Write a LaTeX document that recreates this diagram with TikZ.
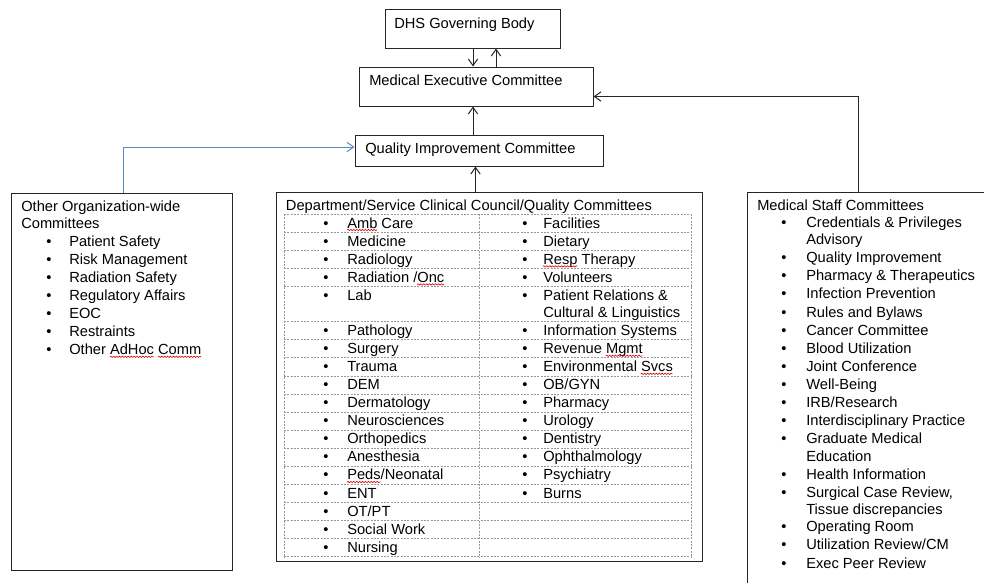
\documentclass[tikz,border=0pt]{standalone}
\usepackage{fontspec}
\setmainfont{Liberation Sans}
\usetikzlibrary{arrows.meta,fit,decorations.pathmorphing}
\definecolor{connblue}{RGB}{91,139,198}
\begin{document}
\begin{tikzpicture}[x=0.75pt,y=-0.75pt,
  font=\fontsize{11}{13}\selectfont,
  box/.style={draw=black!85, line width=0.75pt, inner sep=0pt, fit=#1},
  txt/.style={anchor=base west, inner sep=0pt},
  bul/.style={anchor=base, inner sep=0pt},
  arr/.style={draw=black!85, line width=0.75pt, -{Straight Barb[length=5pt,width=7pt]}},
  bluearr/.style={draw=connblue, line width=0.75pt, -{Straight Barb[length=5pt,width=7pt]}},
  tabline/.style={draw=black!40, line width=0.5pt, dash pattern=on 1.5pt off 1pt},
  squig/.style={draw=red!85!black, line width=0.45pt, decorate, decoration={snake, amplitude=0.5pt, segment length=2.2pt}}]
\clip (0,0) rectangle (984,582);
\fill[white] (0,0) rectangle (984,582);

% box corners
\coordinate (dhsA) at (385,9);   \coordinate (dhsB) at (560,48);
\coordinate (mecA) at (359,67);  \coordinate (mecB) at (593,106);
\coordinate (qicA) at (355,135); \coordinate (qicB) at (603,166);
\coordinate (othA) at (11,193);  \coordinate (othB) at (232,570);
\coordinate (depA) at (276,192); \coordinate (depB) at (702,561);
\coordinate (stfA) at (747,192); \coordinate (stfB) at (1000,600);

\node[box=(dhsA)(dhsB)] (dhs) {};
\node[box=(mecA)(mecB)] (mec) {};
\node[box=(qicA)(qicB)] (qic) {};
\node[box=(othA)(othB)] (oth) {};
\node[box=(depA)(depB)] (dep) {};
\node[box=(stfA)(stfB)] (stf) {};

% box titles
\node[txt] (tdhs) at (394,28) {DHS Governing Body};
\node[txt] (tmec) at (369,85.3) {Medical Executive Committee};
\node[txt] (tqic) at (365,153) {Quality Improvement Committee};
\node[txt] (toth1) at (21,211) {Other Organization-wide};
\node[txt] (toth2) at (21,228) {Committees};
\node[txt] (tdep) at (285.7,210.3) {Department/Service Clinical Council/Quality Committees};
\node[txt] (tstf) at (757,210.5) {Medical Staff Committees};

% connector helper coordinates
\coordinate (cA) at (473,0);
\coordinate (cB) at (496,0);
\coordinate (cC) at (475.5,0);
\coordinate (cD) at (123,0);
\coordinate (cE) at (0,147);
\coordinate (cF) at (858,0);
\coordinate (cG) at (0,96.5);

\draw[arr] (dhs.south -| cA) -- (mec.north -| cA);
\draw[arr] (mec.north -| cB) -- (dhs.south -| cB);
\draw[arr] (qic.north -| cA) -- (mec.south -| cA);
\draw[arr] (dep.north -| cC) -- (qic.south -| cC);
\draw[bluearr] (oth.north -| cD) |- (qic.west |- cE);
\draw[arr] (stf.north -| cF) |- (mec.east |- cG);

% other organization-wide list
\foreach \t [count=\i] in {Patient Safety, Risk Management, Radiation Safety, Regulatory Affairs, EOC, Restraints, Other AdHoc Comm}{
  \node[bul] (ob\i) at (49,{246+18.1*(\i-1)}) {•};
  \node[txt] (ot\i) at (69,{246+18.1*(\i-1)}) {\t};
}

% department table
\foreach \y in {214,232.3,250.4,268.4,286.3,321.8,339.8,357.8,375.9,393.9,411.9,429.9,447.9,465.9,484,502,520,538,556}
  \draw[tabline] (284,\y) -- (691,\y);
\foreach \x in {284,479,691}
  \draw[tabline] (\x,214) -- (\x,558);

\foreach \tp/\t [count=\i] in {214/{Amb Care},232.3/{Medicine},250.4/{Radiology},268.4/{Radiation /Onc},286.3/{Lab},321.8/{Pathology},339.8/{Surgery},357.8/{Trauma},375.9/{DEM},393.9/{Dermatology},411.9/{Neurosciences},429.9/{Orthopedics},447.9/{Anesthesia},465.9/{Peds/Neonatal},484/{ENT},502/{OT/PT},520/{Social Work},538/{Nursing}}{
  \node[bul] (lb\i) at (326,\tp+14) {•};
  \node[txt] (lt\i) at (347,\tp+14) {\t};
}
\foreach \tp/\t [count=\i] in {214/{Facilities},232.3/{Dietary},250.4/{Resp Therapy},268.4/{Volunteers},286.3/{Patient Relations \&},321.8/{Information Systems},339.8/{Revenue Mgmt},357.8/{Environmental Svcs},375.9/{OB/GYN},393.9/{Pharmacy},411.9/{Urology},429.9/{Dentistry},447.9/{Ophthalmology},465.9/{Psychiatry},484/{Burns}}{
  \node[bul] (rb\i) at (525,\tp+14) {•};
  \node[txt] (rt\i) at (543,\tp+14) {\t};
}
\node[txt] (rt5b) at (543,317) {Cultural \& Linguistics};

% medical staff list
\foreach \yc/\b/\t [count=\i] in {222.5/1/{Credentials \& Privileges},239.5/0/{Advisory},257.5/1/{Quality Improvement},275.5/1/{Pharmacy \& Therapeutics},293.5/1/{Infection Prevention},311.7/1/{Rules and Bylaws},330/1/{Cancer Committee},348/1/{Blood Utilization},366/1/{Joint Conference},384/1/{Well-Being},402/1/{IRB/Research},420/1/{Interdisciplinary Practice},438.3/1/{Graduate Medical},455.7/0/{Education},474/1/{Health Information},492.3/1/{Surgical Case Review,},509.3/0/{Tissue discrepancies},526.5/1/{Operating Room},544.5/1/{Utilization Review/CM},562.7/1/{Exec Peer Review}}{
  \ifnum\b=1 \node[bul] (sb\i) at (784,\yc+5.3) {•};\fi
  \node[txt] (st\i) at (806,\yc+5.3) {\t};
}

% spell-check underlines
\draw[squig] (109.8,356.8) -- (153.8,356.8);
\draw[squig] (157.9,356.8) -- (201.1,356.8);
\draw[squig] (347,230) -- (377.2,230);
\draw[squig] (417.1,284.4) -- (444,284.4);
\draw[squig] (543,266.4) -- (577.2,266.4);
\draw[squig] (605.8,355.8) -- (642.5,355.8);
\draw[squig] (640.8,373.8) -- (672.6,373.8);
\draw[squig] (347,482) -- (380.4,482);
\end{tikzpicture}
\end{document}
